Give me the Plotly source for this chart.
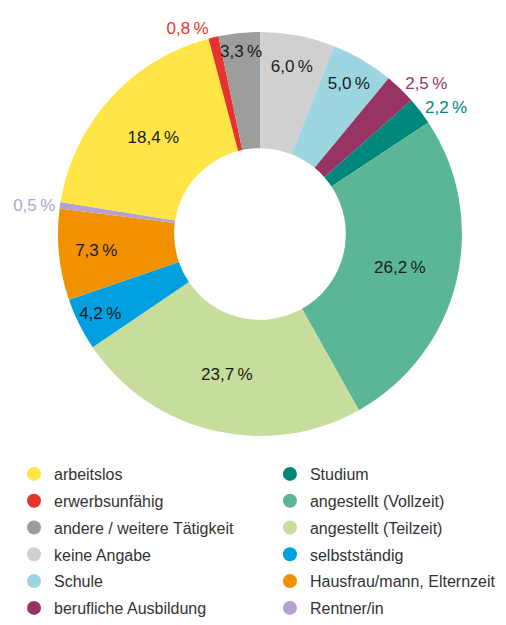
import plotly.graph_objects as go

# slices in clockwise order, starting at 12 o'clock
labels = [
    "keine Angabe", "Schule", "berufliche Ausbildung", "Studium",
    "angestellt (Vollzeit)", "angestellt (Teilzeit)", "selbstständig",
    "Hausfrau/mann, Elternzeit", "Rentner/in", "arbeitslos",
    "erwerbsunfähig", "andere / weitere Tätigkeit",
]
values = [6.0, 5.0, 2.5, 2.2, 26.2, 23.7, 4.2, 7.3, 0.5, 18.4, 0.8, 3.3]
outside = ["berufliche Ausbildung", "Studium", "Rentner/in", "erwerbsunfähig"]

colors = {
    "arbeitslos": "#FFE546",
    "erwerbsunfähig": "#E8322F",
    "andere / weitere Tätigkeit": "#9D9D9C",
    "keine Angabe": "#D0D0D0",
    "Schule": "#9BD5E0",
    "berufliche Ausbildung": "#973464",
    "Studium": "#00877C",
    "angestellt (Vollzeit)": "#5BB597",
    "angestellt (Teilzeit)": "#C7DD9C",
    "selbstständig": "#009FDF",
    "Hausfrau/mann, Elternzeit": "#F29100",
    "Rentner/in": "#B3A2D0",
}

legend_left = ["arbeitslos", "erwerbsunfähig", "andere / weitere Tätigkeit",
               "keine Angabe", "Schule", "berufliche Ausbildung"]
legend_right = ["Studium", "angestellt (Vollzeit)", "angestellt (Teilzeit)",
                "selbstständig", "Hausfrau/mann, Elternzeit", "Rentner/in"]

FONT = "Liberation Sans, Arial, sans-serif"

fig = go.Figure()
fig.add_trace(go.Pie(
    labels=labels,
    values=values,
    sort=False,
    direction="clockwise",
    hole=0.425,
    marker=dict(colors=[colors[l] for l in labels], line=dict(width=0)),
    texttemplate="%{value:.1f}\u2009%",
    textposition=["outside" if l in outside else "inside" for l in labels],
    insidetextorientation="horizontal",
    textfont=dict(size=17, family=FONT,
                  color=[colors[l] if l in outside else "#1a1a1a" for l in labels]),
    domain=dict(x=[0.1146, 0.913], y=[0.3024, 0.9488]),
    showlegend=False,
))

for name in legend_left + legend_right:
    fig.add_trace(go.Scatter(
        x=[None], y=[None], mode="markers", name=name,
        marker=dict(size=14, color=colors[name]),
        legend="legend" if name in legend_left else "legend2",
        legendgroup=name,
    ))

legend_style = dict(font=dict(size=16, family=FONT, color="#333333"),
                    tracegroupgap=3, bgcolor="rgba(0,0,0,0)",
                    xanchor="left", yanchor="bottom", itemclick=False)

fig.update_layout(
    width=506, height=625,
    margin=dict(l=0, r=0, t=0, b=0, autoexpand=False),
    paper_bgcolor="white", plot_bgcolor="white",
    separators=", ",
    uniformtext=dict(minsize=17, mode="show"),
    xaxis=dict(visible=False), yaxis=dict(visible=False),
    legend=dict(x=0.0277, y=0, **legend_style),
    legend2=dict(x=0.5335, y=0, **legend_style),
)

# drop the browser's default 8px body margin so the figure sits at 0,0
fig.write_html("out.html", config={"displayModeBar": False},
               post_script="document.body.style.margin='0';")
